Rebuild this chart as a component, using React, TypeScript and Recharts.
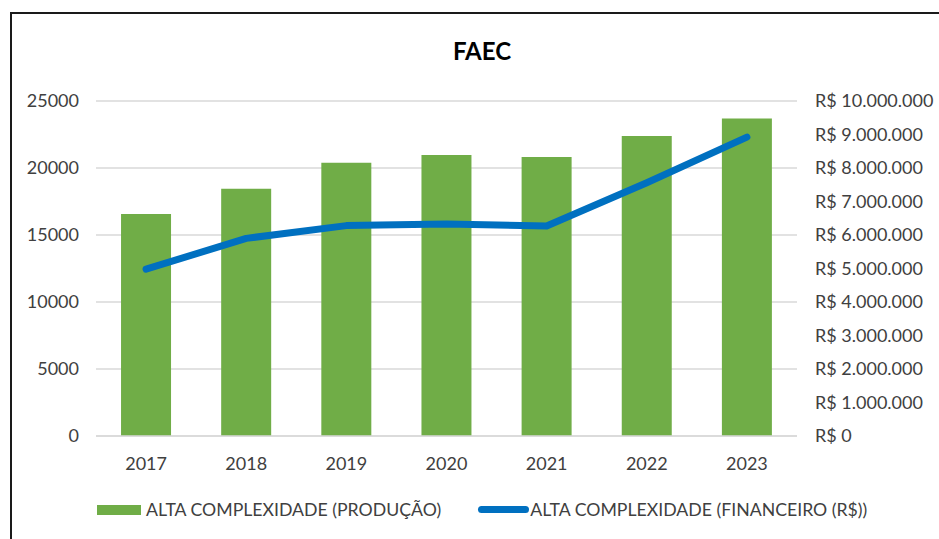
import React from "react";
import { ComposedChart, Bar, Line, XAxis, YAxis, CartesianGrid, Legend } from "recharts";

const years = ["2017", "2018", "2019", "2020", "2021", "2022", "2023"];
const producao = [16560, 18450, 20400, 20970, 20820, 22390, 23700];
const financeiro = [4980000, 5900000, 6280000, 6330000, 6270000, 7560000, 8920000];
const leftTicks = [0, 5000, 10000, 15000, 20000, 25000];
const rightTicks = [0, 1000000, 2000000, 3000000, 4000000, 5000000, 6000000, 7000000, 8000000, 9000000, 10000000];
const title = "FAEC";
const barName = "ALTA COMPLEXIDADE (PRODUÇÃO)";
const lineName = "ALTA COMPLEXIDADE (FINANCEIRO (R$))";

const data = years.map((y, i) => ({ year: y, producao: producao[i], financeiro: financeiro[i] }));

const FONT = "Lato, 'Noto Sans', sans-serif";
const TEXT = "#404040";
const GREEN = "#70AD47";
const BLUE = "#0070C0";

const fmtBRL = (v: number) =>
  "R$ " + String(v).replace(/\B(?=(\d{3})+(?!\d))/g, ".");

const LegendContent = () => (
  <div style={{ display: "flex", alignItems: "center", fontFamily: FONT, fontSize: 17.7, color: TEXT, paddingLeft: 97, whiteSpace: "nowrap" }}>
    <span style={{ display: "inline-block", width: 44, height: 10, background: GREEN, marginRight: 5 }} />
    <span>{barName}</span>
    <span style={{ display: "inline-block", width: 51, height: 7, borderRadius: 4, background: BLUE, marginLeft: 37, marginRight: 1 }} />
    <span>{lineName}</span>
  </div>
);

export default function App() {
  return (
    <div style={{ position: "absolute", left: 0, top: 0, width: 939, height: 539, overflow: "hidden", background: "#fff" }}>
      <div style={{ position: "absolute", left: 10, top: 12, width: 1000, height: 600, border: "2px solid #1a1a1a", boxSizing: "border-box" }} />
      <div style={{ position: "absolute", left: 0, top: 36, width: 964, textAlign: "center", fontFamily: FONT, fontWeight: 700, fontSize: 24, color: "#000" }}>
        {title}
      </div>
      <div style={{ position: "absolute", left: 0, top: 0 }}>
        <ComposedChart width={939} height={539} data={data} margin={{ top: 101, right: 10, bottom: 63, left: 10 }} barCategoryGap="25%">
          <CartesianGrid yAxisId="left" vertical={false} stroke="#D9D9D9" strokeWidth={1.5} />
          <XAxis dataKey="year" height={40} tickLine={false} axisLine={{ stroke: "#D9D9D9", strokeWidth: 1.5 }} tickSize={0} tickMargin={21} tick={{ fill: TEXT, fontSize: 18, fontFamily: FONT }} />
          <YAxis yAxisId="left" orientation="left" width={86} domain={[0, 25000]} ticks={leftTicks} tickLine={false} axisLine={false} tickSize={0} tickMargin={17} tick={{ fill: TEXT, fontSize: 18, fontFamily: FONT }} interval={0} />
          <YAxis yAxisId="right" orientation="right" width={132} domain={[0, 10000000]} ticks={rightTicks} tickFormatter={fmtBRL} tickLine={false} axisLine={false} tickSize={0} tickMargin={18} tick={{ fill: TEXT, fontSize: 18, fontFamily: FONT, textAnchor: "start" }} interval={0} />
          <Bar yAxisId="left" dataKey="producao" name={barName} fill={GREEN} isAnimationActive={false} />
          <Line yAxisId="right" type="linear" dataKey="financeiro" name={lineName} stroke={BLUE} strokeWidth={7} strokeLinecap="round" strokeLinejoin="round" dot={false} activeDot={false} isAnimationActive={false} />
          <Legend layout="horizontal" verticalAlign="middle" align="center" content={LegendContent} wrapperStyle={{ top: 499, left: 0, width: 939 }} />
        </ComposedChart>
      </div>
    </div>
  );
}
